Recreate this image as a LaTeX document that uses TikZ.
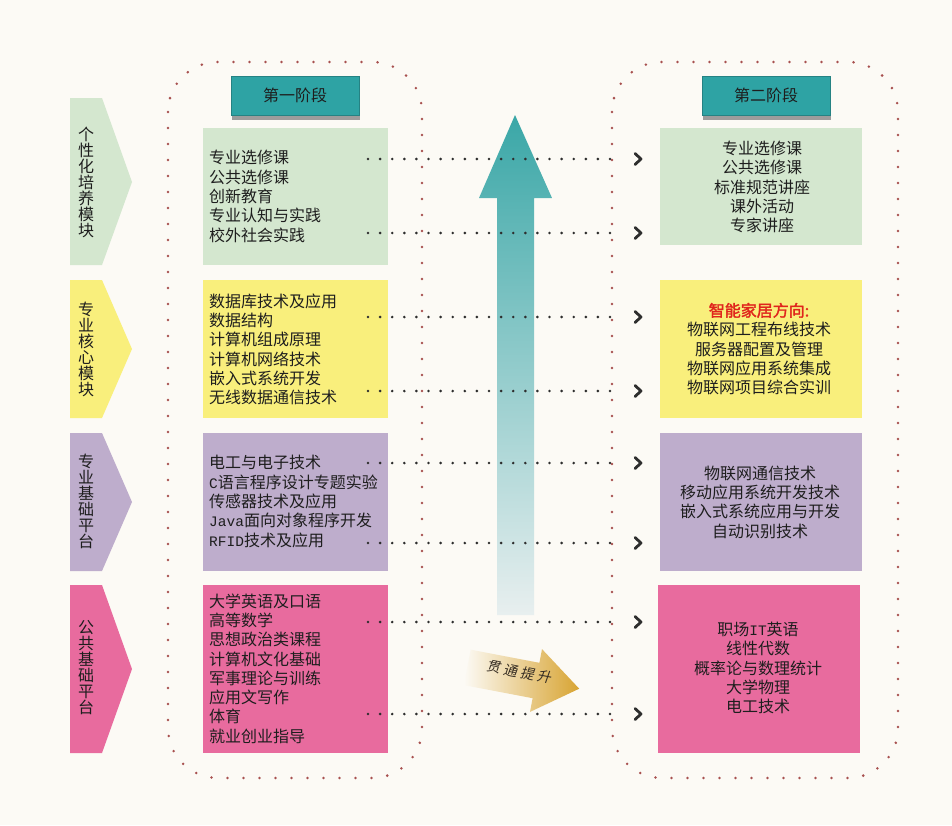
\documentclass[tikz,border=0pt]{standalone}
\usepackage{fontspec}
\setmainfont{Noto Sans CJK SC}
\newfontfamily\monof{Liberation Mono}
\newfontfamily\boldcjk{Noto Sans CJK SC}[FakeBold=2]
\newfontfamily\slantcjk{Noto Sans CJK SC}[FakeSlant=0.15]
\usetikzlibrary{calc}
\definecolor{cbg}{HTML}{FCFAF5}
\definecolor{cgreen}{HTML}{D4E7CF}
\definecolor{cyellow}{HTML}{F9EF7C}
\definecolor{cpurple}{HTML}{BEADCC}
\definecolor{cpink}{HTML}{E86B9E}
\definecolor{cteal}{HTML}{2EA3A4}
\definecolor{ctealA}{HTML}{3AA7A7}
\definecolor{ctealM}{HTML}{7CC2C3}
\definecolor{ctealB}{HTML}{E8EFEF}
\definecolor{cdot}{HTML}{A8504F}
\definecolor{cconn}{HTML}{2E2E2E}
\definecolor{cgold}{HTML}{D8A432}
\definecolor{ctxt}{HTML}{1E1E1E}
\definecolor{cred}{HTML}{E0251C}
\definecolor{cshadow}{HTML}{9C9C9C}
\tikzset{
  cjk/.style={font=\fontsize{16}{19.3}\selectfont, text=ctxt, inner sep=0pt},
  lefttext/.style={cjk, anchor=west, align=left},
  righttext/.style={cjk, align=center},
  vlabel/.style={font=\fontsize{16}{16}\selectfont, text=ctxt, inner sep=0pt, align=center},
  boxL/.style={minimum width=185pt, inner sep=0pt},
  boxR/.style={minimum width=202pt, inner sep=0pt},
  hdr/.style={fill=cteal, draw=cteal!80!black, line width=0.6pt, minimum width=128pt, minimum height=39pt, inner sep=0pt, font=\fontsize{16}{16}\selectfont, text=ctxt},
  cdots/.style={draw=cdot, line width=2.8pt, line cap=round, dash pattern=on 0pt off 16pt},
  conn/.style={draw=cconn, line width=2.9pt, line cap=round, dash pattern=on 0pt off 12.1pt},
  chev/.style={draw=cconn, line width=2.8pt, line cap=round, line join=round},
}
\begin{document}
\begin{tikzpicture}[x=1pt,y=-1pt]
\useasboundingbox (0,0) rectangle (952,825);
\fill[cbg] (0,0) rectangle (952,825);

% dotted containers
\draw[cdots, rounded corners=50pt] (168,62) rectangle (422,778);
\draw[cdots, rounded corners=50pt] (612,62) rectangle (898,778);

% headers
\fill[cshadow] (232,110) rectangle (360,120);
\node[hdr] (H1) at (295,95.5) {第一阶段};
\fill[cshadow] (703,110) rectangle (831,120);
\node[hdr] (H2) at (766,95.5) {第二阶段};

% module arrows
\fill[cgreen]  (70,98)  -- (102,98)  -- (132,182) -- (102,265) -- (70,265) -- cycle;
\fill[cyellow] (70,280) -- (102,280) -- (132,349) -- (102,418) -- (70,418) -- cycle;
\fill[cpurple] (70,433) -- (102,433) -- (132,502) -- (102,571) -- (70,571) -- cycle;
\fill[cpink]   (70,585) -- (102,585) -- (132,669) -- (102,753) -- (70,753) -- cycle;
\node[vlabel] (M1) at (86,182) {个\\性\\化\\培\\养\\模\\块};
\node[vlabel] (M2) at (86,349) {专\\业\\核\\心\\模\\块};
\node[vlabel] (M3) at (86,501) {专\\业\\基\\础\\平\\台};
\node[vlabel] (M4) at (86,668) {公\\共\\基\\础\\平\\台};

% left boxes
\node[boxL, fill=cgreen,  minimum height=137pt] (L1) at (295.5,196.5) {};
\node[boxL, fill=cyellow, minimum height=138pt] (L2) at (295.5,349) {};
\node[boxL, fill=cpurple, minimum height=138pt] (L3) at (295.5,502) {};
\node[boxL, fill=cpink,   minimum height=168pt] (L4) at (295.5,669) {};
\node[lefttext] (L1t) at (209,196.5) {专业选修课\\公共选修课\\创新教育\\专业认知与实践\\校外社会实践};
\node[lefttext] (L2t) at (209,349.5) {数据库技术及应用\\数据结构\\计算机组成原理\\计算机网络技术\\嵌入式系统开发\\无线数据通信技术};
\node[lefttext] (L3t) at (209,501.5) {电工与电子技术\\{\monof\fontsize{14.5}{19.3}\selectfont C}语言程序设计专题实验\\传感器技术及应用\\{\monof\fontsize{14.5}{19.3}\selectfont Java}面向对象程序开发\\{\monof\fontsize{14.5}{19.3}\selectfont RFID}技术及应用};
\node[lefttext] (L4t) at (209,668.5) {大学英语及口语\\高等数学\\思想政治类课程\\计算机文化基础\\军事理论与训练\\应用文写作\\体育\\就业创业指导};

% right boxes
\node[boxR, fill=cgreen,  minimum height=117pt] (R1) at (761,186.5) {};
\node[boxR, fill=cyellow, minimum height=138pt] (R2) at (761,349) {};
\node[boxR, fill=cpurple, minimum height=138pt] (R3) at (761,502) {};
\node[boxR, fill=cpink,   minimum height=168pt] (R4) at (759,669) {};
\node[righttext] (R1t) at (762,187) {专业选修课\\公共选修课\\标准规范讲座\\课外活动\\专家讲座};
\node[righttext] (R2t) at (759,349) {{\boldcjk\color{cred}智能家居方向:}\\物联网工程布线技术\\服务器配置及管理\\物联网应用系统集成\\物联网项目综合实训};
\node[righttext] (R3t) at (760,502) {物联网通信技术\\移动应用系统开发技术\\嵌入式系统应用与开发\\自动识别技术};
\node[righttext] (R4t) at (758,668) {职场{\monof\fontsize{14.5}{19.3}\selectfont IT}英语\\线性代数\\概率论与数理统计\\大学物理\\电工技术};

% big teal arrow
\shade[top color=ctealA, middle color=ctealM, bottom color=ctealB]
  (515,115) -- (552,198) -- (534,198) -- (534,615) -- (497,615) -- (497,198) -- (479,198) -- cycle;

% gold arrow
\shade[left color=cbg, middle color=cgold!55!cbg, right color=cgold]
  (470.7,649.7) -- (539.4,662.8) -- (542,649.1) -- (579.2,688.7) -- (530,711.9) -- (532.6,698.2) -- (463.9,685.1) -- cycle;
\node[font=\slantcjk\fontsize{14}{14}\selectfont, text=ctxt!85!brown, rotate=-11, inner sep=0pt] (G) at (519,672) {贯\kern3.2pt 通\kern3.2pt 提\kern3.2pt 升};

% connectors
\foreach \y [count=\i] in {159,233,317,391,463,543,622,714} {
  \coordinate (s\i) at (368,\y);
  \coordinate (e\i) at (622,\y);
  \draw[conn] (s\i) -- (e\i);
  \draw[chev] ($(e\i)+(13,-5.5)$) -- ($(e\i)+(19,0)$) -- ($(e\i)+(13,5.5)$);
}
\end{tikzpicture}
\end{document}
